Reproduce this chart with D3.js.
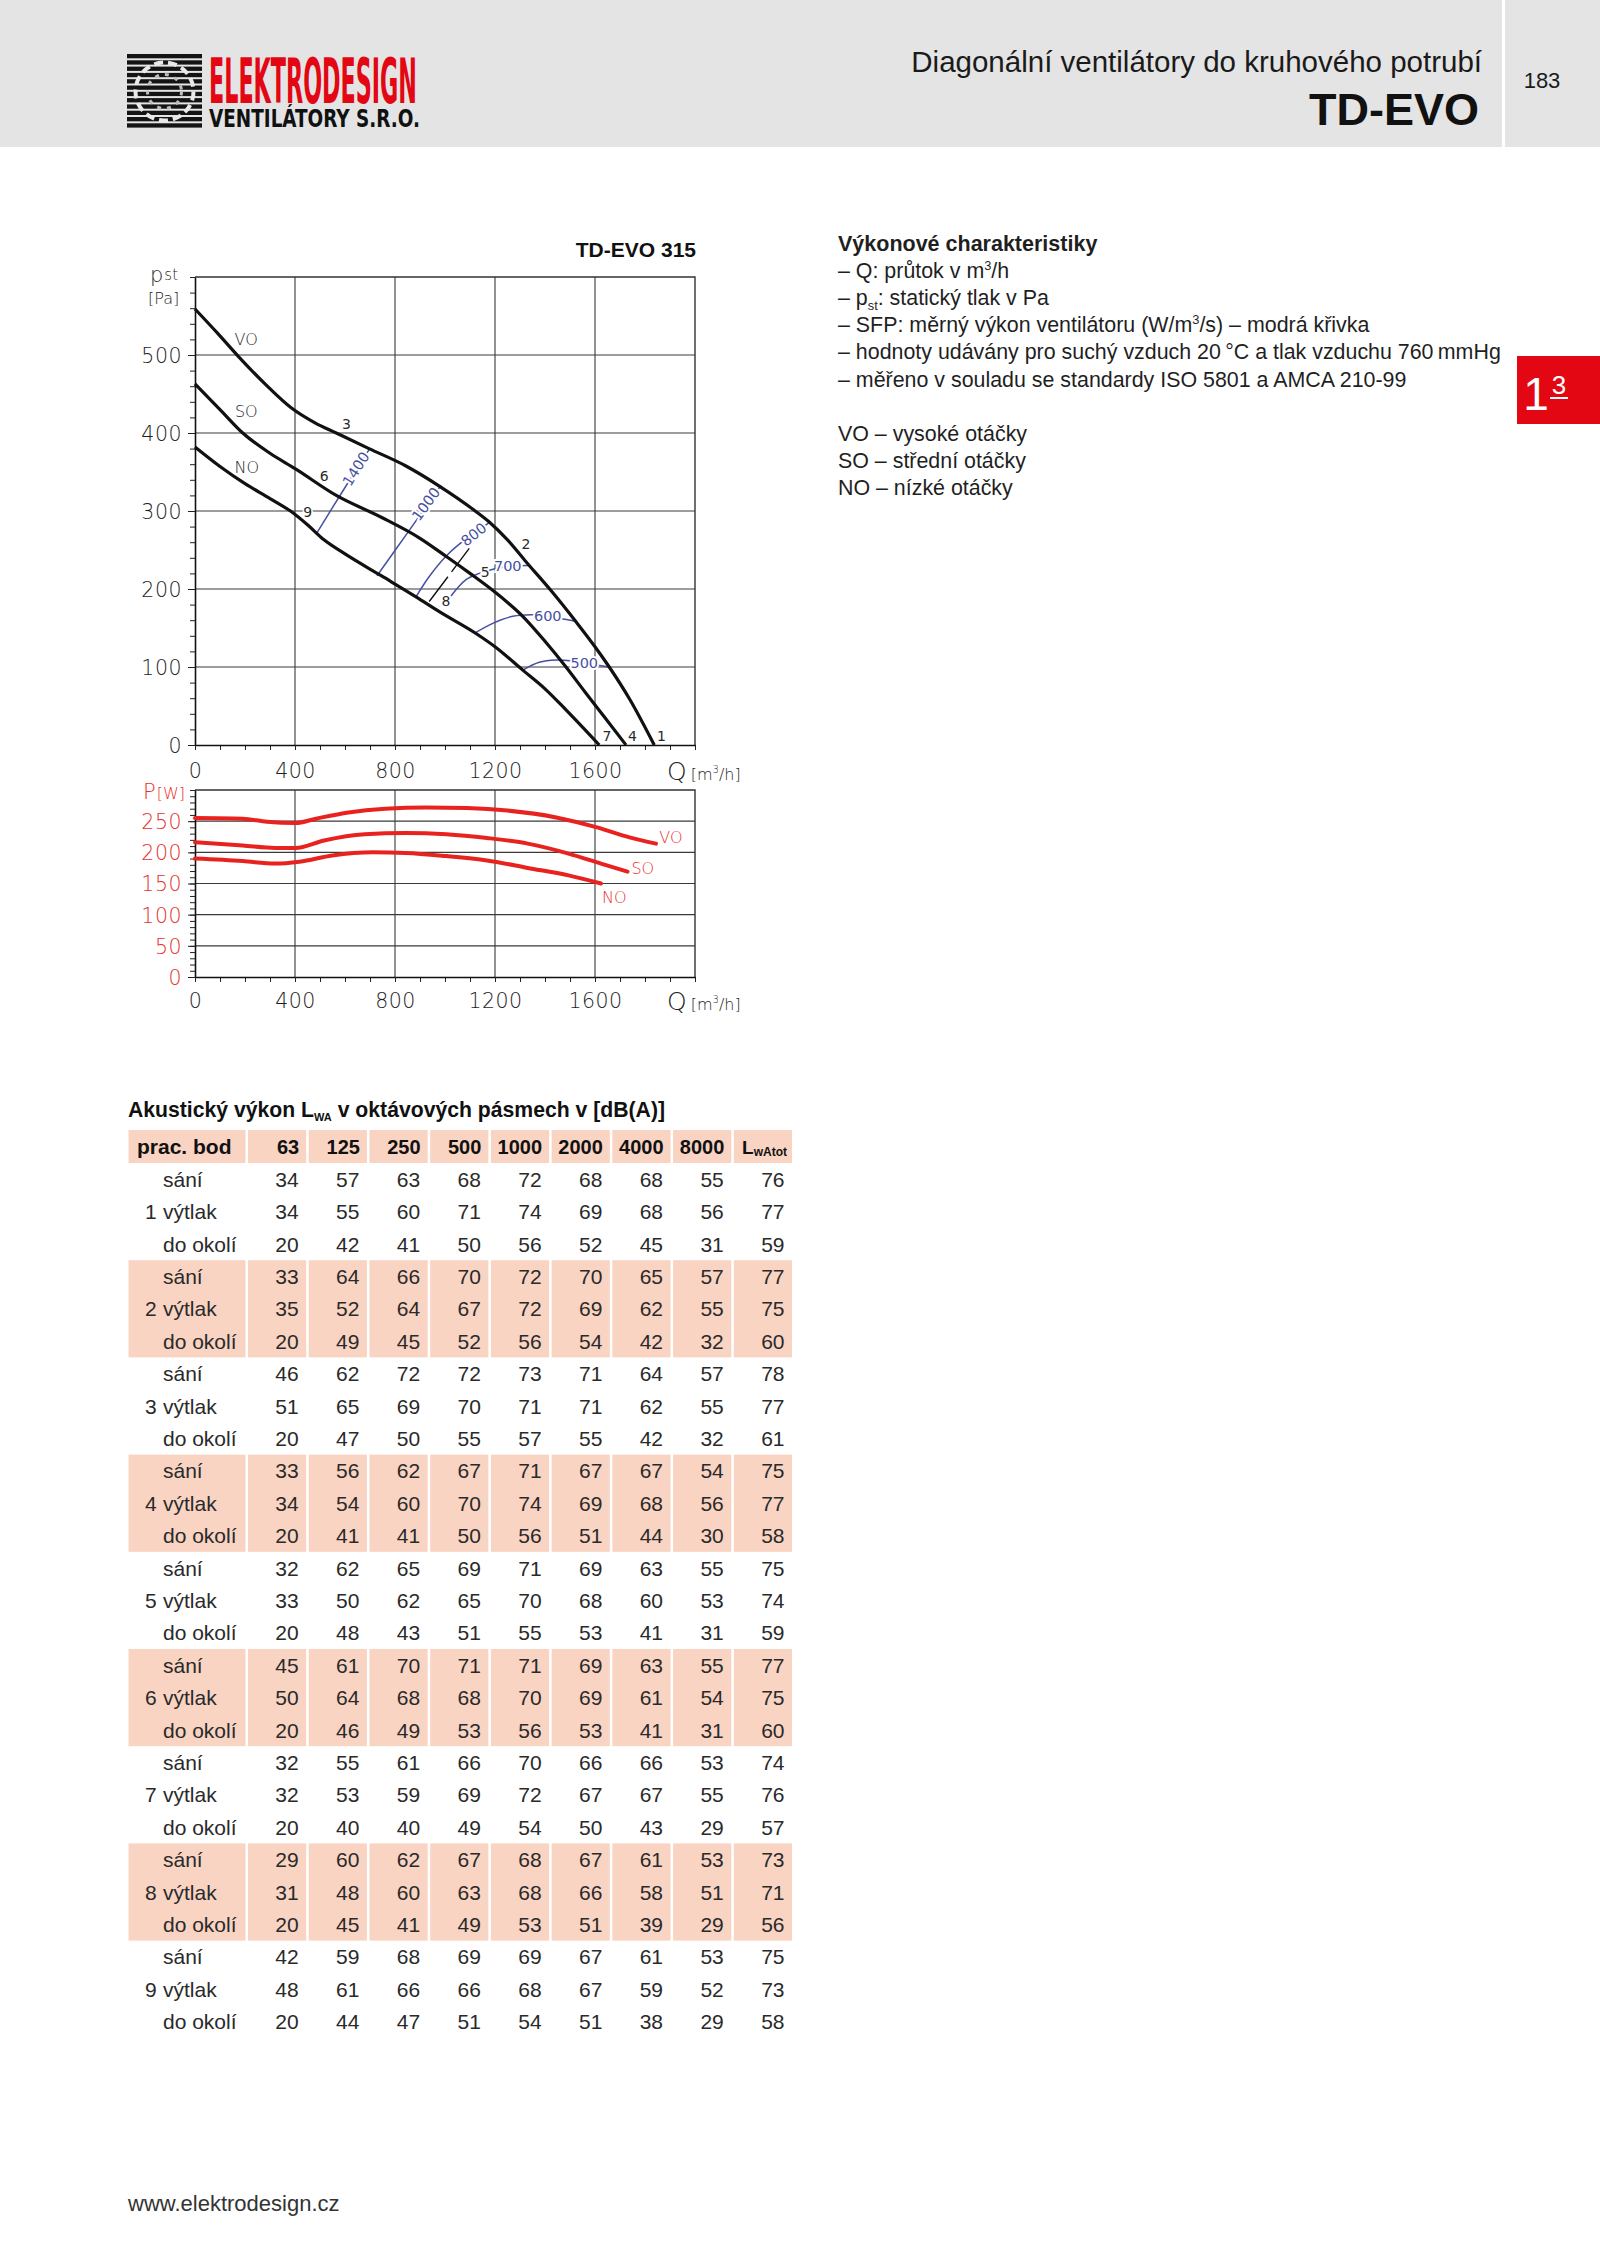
<!DOCTYPE html>
<html>
<head>
<meta charset="utf-8">
<title>TD-EVO 315</title>
<script src="https://d3js.org/d3.v7.min.js"></script>
<style>
  body { margin: 0; background: #fff; }
</style>
</head>
<body>
<script>
/************** data *****************/
var qTicks = [0, 400, 800, 1200, 1600];
var pTicks = [0, 100, 200, 300, 400, 500];
var wTicks = [0, 50, 100, 150, 200, 250];

// static pressure [Q m3/h, p Pa]
var pressVO = [[0,559],[90,528],[174,498],[280,463],[386,432],[480,413],[565,400],[696,380],[842,358],[977,332],[1117,301],[1177,286],[1250,263],[1324,235],[1424,198],[1524,158],[1600,126],[1657,100],[1740,58],[1837,0]];
var pressSO = [[0,463],[100,430],[191,400],[300,374],[402,354],[565,320],[745,292],[900,265],[1004,242],[1100,220],[1184,200],[1311,165],[1400,133],[1484,100],[1560,68],[1640,35],[1724,0]];
var pressNO = [[0,382],[100,357],[200,335],[300,316],[386,299],[451,282],[516,263],[600,245],[745,217],[884,190],[977,171],[1124,143],[1200,126],[1311,96],[1400,72],[1484,45],[1617,0]];

// input power [Q m3/h, P W]
var powerVO = [[0,255],[191,254],[288,249],[402,247],[484,254],[614,264],[761,270],[924,272],[1087,271],[1250,267],[1445,256],[1608,240],[1738,224],[1844,214]];
var powerSO = [[0,216],[191,211],[321,207],[402,207],[516,219],[679,229],[842,231],[1005,229],[1168,223],[1331,214],[1494,198],[1624,182],[1730,169]];
var powerNO = [[0,190],[191,186],[321,182],[418,185],[549,195],[712,200],[842,199],[1005,194],[1168,187],[1331,175],[1494,163],[1624,150]];

// SFP iso lines (W/m3/s), label placed at labelAt [Q, p]
var sfpLines = [
  {label: "1400", pts: [[484,270],[590,325],[699,380]], labelAt: [644,354], angle: -58},
  {label: "1000", pts: [[728,217],[850,272],[984,333]], labelAt: [924,309], angle: -54},
  {label: "800",  pts: [[884,190],[937,216],[1004,242],[1071,261],[1177,285]], labelAt: [1115,270], angle: -38},
  {label: "700",  pts: [[1024,191],[1084,212],[1137,220],[1200,226],[1251,229],[1337,230]], labelAt: [1251,229], angle: 0},
  {label: "600",  pts: [[1117,143],[1191,156],[1271,165],[1351,167],[1411,165],[1464,162],[1517,159]], labelAt: [1411,165], angle: 0},
  {label: "500",  pts: [[1311,96],[1377,106],[1444,109],[1500,108],[1557,105],[1655,100]], labelAt: [1557,105], angle: 0}
];
var systemLine = [[937,184],[1097,252]];

// operating points 1-9
var opPoints = [["1",1866,11],["2",1324,258],["3",606,412],["4",1750,11],["5",1161,222],["6",517,345],["7",1648,11],["8",1004,184],["9",451,298]];
var curveNames = ["VO", "SO", "NO"];
var pressLabelAt = [[205,520],[205,428],[207,356]];
var powerLabelAt = [[1904,224],[1791,174],[1677,128]];

// acoustic power table
var bands = ["63","125","250","500","1000","2000","4000","8000"];
var placeNames = ["sání", "výtlak", "do okolí"];
var lwaSani   = [[34,57,63,68,72,68,68,55,76],[33,64,66,70,72,70,65,57,77],[46,62,72,72,73,71,64,57,78],[33,56,62,67,71,67,67,54,75],[32,62,65,69,71,69,63,55,75],[45,61,70,71,71,69,63,55,77],[32,55,61,66,70,66,66,53,74],[29,60,62,67,68,67,61,53,73],[42,59,68,69,69,67,61,53,75]];
var lwaVytlak = [[34,55,60,71,74,69,68,56,77],[35,52,64,67,72,69,62,55,75],[51,65,69,70,71,71,62,55,77],[34,54,60,70,74,69,68,56,77],[33,50,62,65,70,68,60,53,74],[50,64,68,68,70,69,61,54,75],[32,53,59,69,72,67,67,55,76],[31,48,60,63,68,66,58,51,71],[48,61,66,66,68,67,59,52,73]];
var lwaOkoli  = [[20,42,41,50,56,52,45,31,59],[20,49,45,52,56,54,42,32,60],[20,47,50,55,57,55,42,32,61],[20,41,41,50,56,51,44,30,58],[20,48,43,51,55,53,41,31,59],[20,46,49,53,56,53,41,31,60],[20,40,40,49,54,50,43,29,57],[20,45,41,49,53,51,39,29,56],[20,44,47,51,54,51,38,29,58]];

var infoLines = [
  [{t: "– Q: průtok v m"}, {t: "3", sup: true}, {t: "/h"}],
  [{t: "– p"}, {t: "st", sub: true}, {t: ": statický tlak v Pa"}],
  [{t: "– SFP: měrný výkon ventilátoru (W/m"}, {t: "3", sup: true}, {t: "/s) – modrá křivka"}],
  [{t: "– hodnoty udávány pro suchý vzduch 20\u2009°C a tlak vzduchu 760\u2009mmHg"}],
  [{t: "– měřeno v souladu se standardy ISO 5801 a AMCA 210-99"}],
  [],
  [{t: "VO – vysoké otáčky"}],
  [{t: "SO – střední otáčky"}],
  [{t: "NO – nízké otáčky"}]
];

/************** layout *****************/
var W = 1600, H = 2258;
var red = "#e30613", blue = "#4650a0", powerRed = "#e8231f", labelRed = "#e8302c";
var sansFont = "'Liberation Sans', Arial, sans-serif";
var chartFont = "'DejaVu Sans', sans-serif";

var svg = d3.select("body").append("svg")
    .attr("width", W).attr("height", H)
    .attr("font-family", sansFont)
    .style("display", "block");

// rich text helper (sup / sub as tspans)
function richText(g, x, y, parts, size) {
  var t = g.append("text").attr("x", x).attr("y", y).attr("font-size", size);
  var shift = 0;
  parts.forEach(function(p){
    var target = p.sup ? -size * 0.38 : (p.sub ? size * 0.22 : 0);
    var s = t.append("tspan").text(p.t);
    if (target !== shift) { s.attr("dy", target - shift); shift = target; }
    if (p.sup || p.sub) s.attr("font-size", size * 0.6);
  });
  return t;
}

/************** page header *****************/
svg.append("rect").attr("x",0).attr("y",0).attr("width",W).attr("height",147).attr("fill","#e3e4e3");
svg.append("rect").attr("x",1502).attr("y",0).attr("width",3).attr("height",147).attr("fill","#fff");

svg.append("text").attr("x",1482).attr("y",72).attr("text-anchor","end")
   .attr("font-size",29.5).attr("fill","#1a1a1a").text("Diagonální ventilátory do kruhového potrubí");
svg.append("text").attr("x",1479).attr("y",125).attr("text-anchor","end")
   .attr("font-size",45).attr("font-weight","bold").attr("fill","#111").text("TD-EVO");
svg.append("text").attr("x",1542).attr("y",88).attr("text-anchor","middle")
   .attr("font-size",22).attr("fill","#1a1a1a").text("183");

// logo
var logo = svg.append("g").attr("font-family","'DejaVu Sans Condensed', 'DejaVu Sans', sans-serif").attr("font-weight","bold");
logo.selectAll("rect.stripe").data(d3.range(12)).enter().append("rect")
    .attr("class","stripe")
    .attr("x",127).attr("y",function(d){ return 54 + d * 6.3; })
    .attr("width",75).attr("height",4.3).attr("fill","#141414");
logo.append("circle").attr("cx",164.5).attr("cy",91.5).attr("r",29)
    .attr("fill","none").attr("stroke","#e9e9e9").attr("stroke-width",4).attr("stroke-dasharray","9 5");
logo.append("circle").attr("cx",164.5).attr("cy",91.5).attr("r",17)
    .attr("fill","none").attr("stroke","#bdbdbd").attr("stroke-width",3).attr("stroke-dasharray","4 6");
logo.append("text").attr("x",209).attr("y",103)
    .attr("font-size",62).attr("fill",red)
    .attr("textLength",208).attr("lengthAdjust","spacingAndGlyphs").text("ELEKTRODESIGN");
logo.append("text").attr("x",209).attr("y",127)
    .attr("font-size",25).attr("fill","#111")
    .attr("textLength",211).attr("lengthAdjust","spacingAndGlyphs").text("VENTILÁTORY S.R.O.");

// side tab
svg.append("rect").attr("x",1517).attr("y",356).attr("width",83).attr("height",68).attr("fill",red);
svg.append("text").attr("x",1536).attr("y",410).attr("text-anchor","middle")
   .attr("font-size",46).attr("fill","#fff").text("1");
svg.append("text").attr("x",1559).attr("y",394).attr("text-anchor","middle")
   .attr("font-size",26).attr("fill","#fff").text("3");
svg.append("line").attr("x1",1550).attr("x2",1568).attr("y1",398).attr("y2",398)
   .attr("stroke","#fff").attr("stroke-width",2);

/************** charts *****************/
var x = d3.scaleLinear().domain([0, 2000]).range([195, 695]);
var yP = d3.scaleLinear().domain([0, 600]).range([745, 277]);
var yW = d3.scaleLinear().domain([0, 300]).range([977, 790]);

var chart = svg.append("g").attr("font-family", chartFont).attr("font-weight", 200);

function styleLabels(sel, color) {
  sel.attr("font-size",20.5).attr("font-family",chartFont).attr("font-weight",200)
     .attr("letter-spacing",0.5).attr("fill",color);
}

function frame(y, top, ticks, minorStep, labelColor, xPad) {
  var g = chart.append("g");
  // grid
  g.selectAll("line.v").data(qTicks.slice(1)).enter().append("line")
    .attr("x1", function(d){ return x(d); }).attr("x2", function(d){ return x(d); })
    .attr("y1", y(top)).attr("y2", y(0)).attr("stroke","#3a3a3a").attr("stroke-width",1.1);
  g.selectAll("line.h").data(ticks.slice(1)).enter().append("line")
    .attr("x1", x(0)).attr("x2", x(2000))
    .attr("y1", function(d){ return y(d); }).attr("y2", function(d){ return y(d); })
    .attr("stroke","#3a3a3a").attr("stroke-width",1.1);
  g.append("path")
    .attr("d", "M" + x(0) + "," + y(top) + "H" + x(2000) + "V" + y(0))
    .attr("fill","none").attr("stroke","#333").attr("stroke-width",1.4);

  // minor ticks
  g.append("g").attr("transform","translate(" + x(0) + ",0)")
    .call(d3.axisLeft(y).tickValues(d3.range(0, top + 0.1, minorStep)).tickSize(5).tickSizeOuter(0).tickFormat(""))
    .call(function(a){ a.select(".domain").remove(); });
  g.append("g").attr("transform","translate(0," + y(0) + ")")
    .call(d3.axisBottom(x).tickValues(d3.range(0, 2001, 100)).tickSize(5).tickSizeOuter(0).tickFormat(""))
    .call(function(a){ a.select(".domain").remove(); });

  // labelled axes
  var ya = g.append("g").attr("transform","translate(" + x(0) + ",0)")
    .call(d3.axisLeft(y).tickValues(ticks).tickSize(7).tickSizeOuter(0).tickPadding(6).tickFormat(d3.format("d")));
  ya.select(".domain").attr("stroke","#111").attr("stroke-width",1.6);
  styleLabels(ya.selectAll("text"), labelColor);
  ya.selectAll("text").attr("dy","0.36em");

  var xa = g.append("g").attr("transform","translate(0," + y(0) + ")")
    .call(d3.axisBottom(x).tickValues(qTicks).tickSize(5).tickSizeOuter(0).tickPadding(xPad).tickFormat(d3.format("d")));
  xa.select(".domain").attr("stroke","#111").attr("stroke-width",1.6);
  styleLabels(xa.selectAll("text"), "#1e1e1e");
  g.selectAll(".tick line").attr("stroke","#222");

  // Q [m3/h]
  var q = g.append("text").attr("x", 667).attr("y", y(0) + xPad + 22).attr("fill","#1e1e1e");
  q.append("tspan").attr("font-size",25).text("Q");
  q.append("tspan").attr("font-size",16).attr("dx",4).text("[m");
  q.append("tspan").attr("font-size",10).attr("dy",-7).text("3");
  q.append("tspan").attr("font-size",16).attr("dy",7).text("/h]");
  return g;
}

// ---- pressure chart ----
var gp = frame(yP, 600, pTicks, 20, "#1e1e1e", 13);
chart.append("text").attr("x",696).attr("y",257).attr("text-anchor","end")
    .attr("font-family",sansFont).attr("font-weight","bold")
    .attr("font-size",21).attr("fill","#111").text("TD-EVO 315");
var pst = chart.append("text").attr("x",150).attr("y",282).attr("fill","#1e1e1e");
pst.append("tspan").attr("font-size",21).text("p");
pst.append("tspan").attr("font-size",15).attr("dx",1).attr("dy",-2).text("st");
chart.append("text").attr("x",148).attr("y",304).attr("font-size",16).attr("fill","#1e1e1e").text("[Pa]");

var pLine = d3.line().x(function(d){ return x(d[0]); }).y(function(d){ return yP(d[1]); }).curve(d3.curveMonotoneX);
var sLine = d3.line().x(function(d){ return x(d[0]); }).y(function(d){ return yP(d[1]); }).curve(d3.curveCatmullRom);

// SFP iso lines (blue)
var gs = chart.append("g");
gs.selectAll("path").data(sfpLines).enter().append("path")
  .attr("d", function(d){ return sLine(d.pts); })
  .attr("fill","none").attr("stroke",blue).attr("stroke-width",1.5);
gs.append("path").attr("d", sLine(systemLine))
  .attr("fill","none").attr("stroke","#111").attr("stroke-width",1.4).attr("stroke-dasharray","31 6");

// fan curves
chart.append("g").selectAll("path").data([pressVO, pressSO, pressNO]).enter().append("path")
  .attr("d", pLine).attr("fill","none").attr("stroke","#111").attr("stroke-width",3.2);

gs.selectAll("text").data(sfpLines).enter().append("text")
  .attr("transform", function(d){ return "translate(" + x(d.labelAt[0]) + "," + yP(d.labelAt[1]) + ") rotate(" + d.angle + ")"; })
  .attr("text-anchor","middle").attr("dy","0.35em")
  .attr("font-size",14.5).attr("font-weight",400).attr("fill",blue)
  .attr("stroke","#fff").attr("stroke-width",4).attr("paint-order","stroke")
  .text(function(d){ return d.label; });

chart.append("g").selectAll("text").data(opPoints).enter().append("text")
  .attr("x", function(d){ return x(d[1]); }).attr("y", function(d){ return yP(d[2]); })
  .attr("text-anchor","middle").attr("dy","0.35em").attr("font-size",14).attr("font-weight",400).attr("fill","#2a2a2a")
  .attr("stroke","#fff").attr("stroke-width",3).attr("paint-order","stroke")
  .text(function(d){ return d[0]; });

chart.append("g").selectAll("text").data(curveNames).enter().append("text")
  .attr("x", function(d,i){ return x(pressLabelAt[i][0]); }).attr("y", function(d,i){ return yP(pressLabelAt[i][1]); })
  .attr("text-anchor","middle").attr("dy","0.35em").attr("font-size",16).attr("fill","#222")
  .text(function(d){ return d; });

// ---- power chart ----
var gw = frame(yW, 300, wTicks, 10, labelRed, 11);
var pw = chart.append("text").attr("x",143).attr("y",799).attr("fill",labelRed);
pw.append("tspan").attr("font-size",21).text("P");
pw.append("tspan").attr("font-size",16).attr("dx",1).text("[W]");

var wLine = d3.line().x(function(d){ return x(d[0]); }).y(function(d){ return yW(d[1]); }).curve(d3.curveMonotoneX);
chart.append("g").selectAll("path").data([powerVO, powerSO, powerNO]).enter().append("path")
  .attr("d", wLine).attr("fill","none").attr("stroke",powerRed).attr("stroke-width",4).attr("stroke-linecap","round");
chart.append("g").selectAll("text").data(curveNames).enter().append("text")
  .attr("x", function(d,i){ return x(powerLabelAt[i][0]); }).attr("y", function(d,i){ return yW(powerLabelAt[i][1]); })
  .attr("text-anchor","middle").attr("dy","0.35em").attr("font-size",16).attr("fill",labelRed)
  .text(function(d){ return d; });

/************** info text *****************/
var info = svg.append("g").attr("fill","#1f1f1f");
info.append("text").attr("x",838).attr("y",251).attr("font-size",21.5).attr("font-weight","bold")
    .text("Výkonové charakteristiky");
infoLines.forEach(function(parts, i){
  if (parts.length) richText(info, 838, 278.1 + i * 27.1, parts, 21.4);
});

/************** acoustic table *****************/
var cols = bands.concat(["LwAtot"]);
var colX = d3.scaleBand().domain(cols).range([248, 792]).paddingInner(0.042);
var rowY = d3.scaleLinear().domain([0, 27]).range([1163, 1163 + 27 * 32.4]);
var rowH = rowY(1) - rowY(0);
var pink = "#f9d4c3";

var tbl = svg.append("g");
var title = tbl.append("text").attr("x",128).attr("y",1117).attr("font-size",21.2).attr("font-weight","bold").attr("fill","#111");
title.append("tspan").text("Akustický výkon L");
title.append("tspan").attr("font-size",11).attr("dy",4).text("WA");
title.append("tspan").attr("dy",-4).text(" v oktávových pásmech v [dB(A)]");

// header cells
var cellX = [{x: 128.5, w: 245.5 - 128.5}].concat(cols.map(function(c){ return {x: colX(c), w: colX.bandwidth()}; }));
tbl.selectAll("rect.head").data(cellX).enter().append("rect")
   .attr("x", function(d){ return d.x; }).attr("y", 1130).attr("width", function(d){ return d.w; })
   .attr("height", rowY(0) - 1130).attr("fill", pink);
tbl.append("text").attr("x",137).attr("y",1154).attr("font-size",21).attr("font-weight","bold").attr("fill","#111").text("prac. bod");
tbl.selectAll("text.head").data(bands).enter().append("text")
   .attr("x", function(d){ return colX(d) + colX.bandwidth() - 7; }).attr("y",1154)
   .attr("text-anchor","end").attr("font-size",20).attr("font-weight","bold").attr("fill","#111")
   .text(function(d){ return d; });
var lw = tbl.append("text").attr("x", colX("LwAtot") + colX.bandwidth() - 5).attr("y",1154)
   .attr("text-anchor","end").attr("font-weight","bold").attr("fill","#111");
lw.append("tspan").attr("font-size",19).text("L");
lw.append("tspan").attr("font-size",12).attr("dy",2).text("wAtot");

// pink bands for points 2, 4, 6, 8
d3.range(9).filter(function(i){ return i % 2 === 1; }).forEach(function(i){
  tbl.selectAll(null).data(cellX).enter().append("rect")
     .attr("x", function(d){ return d.x; }).attr("y", rowY(i * 3))
     .attr("width", function(d){ return d.w; }).attr("height", rowY(i * 3 + 3) - rowY(i * 3))
     .attr("fill", pink);
});

var rows = [];
d3.range(9).forEach(function(i){
  [lwaSani, lwaVytlak, lwaOkoli].forEach(function(src, k){
    rows.push({point: i + 1, place: placeNames[k], k: k, vals: src[i], idx: i * 3 + k});
  });
});
var rowG = tbl.selectAll("g.row").data(rows).enter().append("g")
   .attr("transform", function(d){ return "translate(0," + (rowY(d.idx) + rowH / 2 + 7.5) + ")"; })
   .attr("font-size",21).attr("fill","#2a2a2a");
rowG.filter(function(d){ return d.k === 1; }).append("text").attr("x",145).text(function(d){ return d.point; });
rowG.append("text").attr("x",163).text(function(d){ return d.place; });
rowG.selectAll("text.v").data(function(d){ return d.vals; }).enter().append("text")
   .attr("x", function(d, j){ return colX(cols[j]) + colX.bandwidth() - 7.5; })
   .attr("text-anchor","end").text(function(d){ return d; });

/************** footer *****************/
svg.append("text").attr("x",128).attr("y",2211).attr("font-size",22).attr("fill","#333").text("www.elektrodesign.cz");
</script>
</body>
</html>
